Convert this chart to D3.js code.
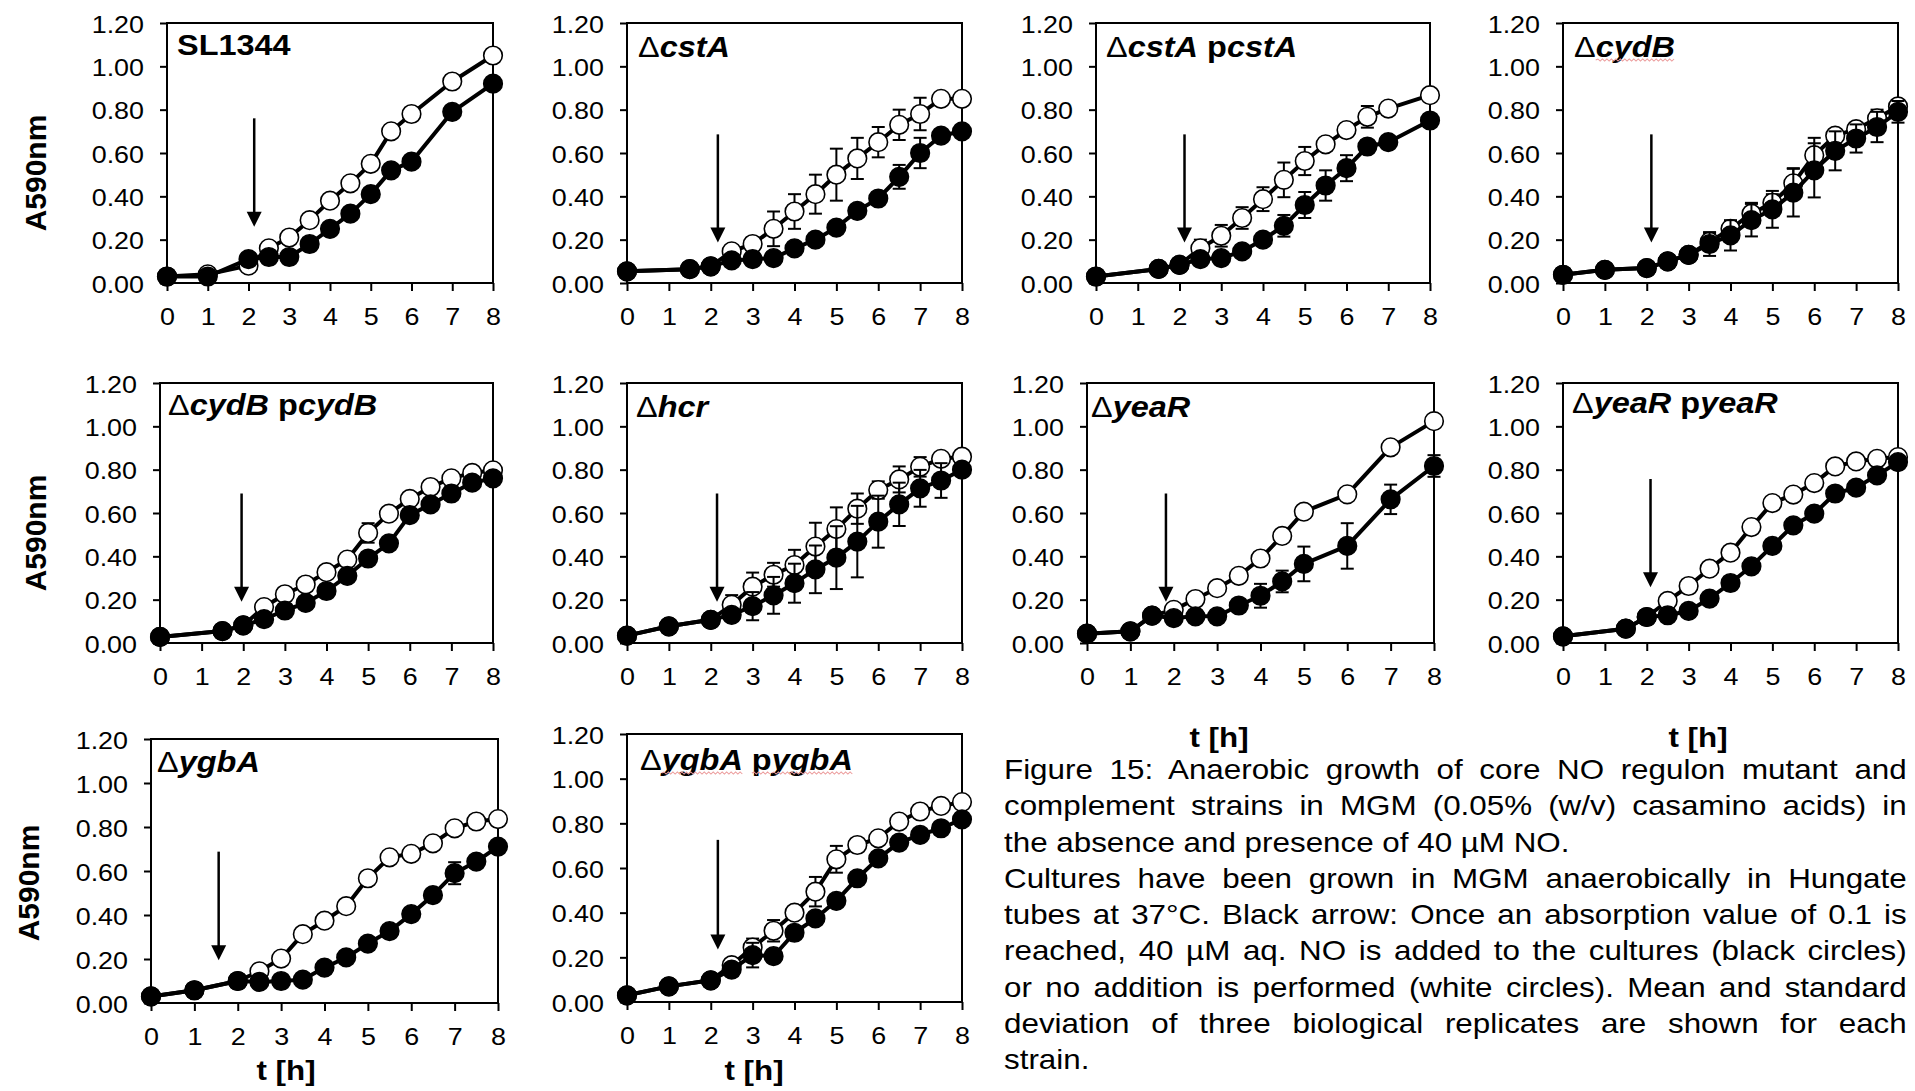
<!DOCTYPE html>
<html>
<head>
<meta charset="utf-8">
<script src="https://cdn.jsdelivr.net/npm/d3@7"></script>
<style>
  html, body { margin: 0; padding: 0; background: #fff; }
  #fig { position: relative; width: 1915px; height: 1091px; overflow: hidden; background: #fff; }
  #fig svg { position: absolute; left: 0; top: 0; }
  #caption {
    position: absolute; left: 1004px; top: 752px; width: 806px;
    transform: scaleX(1.12); transform-origin: 0 0;
    font-family: "Liberation Sans", Arial, Helvetica, sans-serif;
    font-size: 28px; line-height: 36.3px; color: #000;
  }
  #caption div { text-align: justify; text-align-last: justify; }
  #caption div.end { text-align-last: left; }
</style>
</head>
<body>
<div id="fig"></div>
<script>
// ---- axis ticks ----
const xTicks = [0, 1, 2, 3, 4, 5, 6, 7, 8];
const yTicks = [0, 0.2, 0.4, 0.6, 0.8, 1.0, 1.2];

// ---- strain names: [text, style, spell-check mark] ----
const strainLabels = [
  [["SL1344", "b"]],
  [["Δ", "d"], ["cstA", "i"]],
  [["Δ", "d"], ["cstA", "i"], [" p", "b"], ["cstA", "i"]],
  [["Δ", "d"], ["cydB", "i", 1]],
  [["Δ", "d"], ["cydB", "i"], [" p", "b"], ["cydB", "i"]],
  [["Δ", "d"], ["hcr", "i"]],
  [["Δ", "d"], ["yeaR", "i"]],
  [["Δ", "d"], ["yeaR", "i"], [" p", "b"], ["yeaR", "i"]],
  [["Δ", "d"], ["ygbA", "i"]],
  [["Δ", "d"], ["ygbA", "i", 1], [" ", "b"], ["p", "b", 1], ["ygbA", "i", 1]]
];

// ---- growth data: time (h), A590 without NO (open), with 40 µM NO (filled), SD ----
const t1  = [0, 1, 2, 2.5, 3, 3.5, 4, 4.5, 5, 5.5, 6, 7, 8];
const c1  = [0.03, 0.04, 0.08, 0.16, 0.21, 0.29, 0.38, 0.46, 0.55, 0.70, 0.78, 0.93, 1.05];
const ce1 = [0, 0, 0, 0, 0, 0, 0, 0, 0, 0, 0, 0, 0];
const n1  = [0.03, 0.03, 0.11, 0.12, 0.12, 0.18, 0.25, 0.32, 0.41, 0.52, 0.56, 0.79, 0.92];
const ne1 = [0, 0, 0, 0, 0, 0, 0, 0, 0, 0, 0, 0, 0];

const t2  = [0, 1.5, 2, 2.5, 3, 3.5, 4, 4.5, 5, 5.5, 6, 6.5, 7, 7.5, 8];
const c2  = [0.054, 0.064, 0.077, 0.146, 0.18, 0.25, 0.33, 0.41, 0.50, 0.575, 0.65, 0.73, 0.78, 0.85, 0.85];
const ce2 = [0, 0, 0, 0.02, 0.03, 0.08, 0.08, 0.09, 0.12, 0.095, 0.07, 0.07, 0.075, 0.02, 0.02];
const n2  = [0.054, 0.064, 0.077, 0.104, 0.11, 0.115, 0.16, 0.20, 0.256, 0.333, 0.39, 0.49, 0.60, 0.68, 0.70];
const ne2 = [0, 0, 0, 0, 0, 0.01, 0.01, 0.01, 0.02, 0.02, 0.02, 0.055, 0.07, 0.02, 0.02];

const t3  = [0, 1.5, 2, 2.5, 3, 3.5, 4, 4.5, 5, 5.5, 6, 6.5, 7, 8];
const c3  = [0.03, 0.065, 0.084, 0.16, 0.218, 0.30, 0.387, 0.476, 0.563, 0.64, 0.706, 0.767, 0.805, 0.867];
const ce3 = [0, 0, 0, 0.04, 0.05, 0.05, 0.055, 0.08, 0.065, 0.03, 0.03, 0.05, 0.01, 0.01];
const n3  = [0.03, 0.065, 0.084, 0.11, 0.115, 0.146, 0.20, 0.264, 0.36, 0.45, 0.53, 0.63, 0.65, 0.75];
const ne3 = [0, 0, 0, 0, 0, 0.01, 0.02, 0.05, 0.06, 0.07, 0.06, 0.03, 0.01, 0.01];

const t4  = [0, 1, 2, 2.5, 3, 3.5, 4, 4.5, 5, 5.5, 6, 6.5, 7, 7.5, 8];
const c4  = [0.038, 0.061, 0.069, 0.10, 0.13, 0.19, 0.25, 0.32, 0.37, 0.46, 0.59, 0.68, 0.71, 0.76, 0.815];
const ce4 = [0, 0, 0, 0, 0, 0.04, 0.035, 0.05, 0.04, 0.07, 0.08, 0.02, 0.02, 0.04, 0.02];
const n4  = [0.038, 0.061, 0.069, 0.10, 0.13, 0.18, 0.22, 0.29, 0.34, 0.417, 0.52, 0.61, 0.667, 0.72, 0.79];
const ne4 = [0, 0, 0, 0, 0, 0.055, 0.07, 0.075, 0.085, 0.11, 0.125, 0.09, 0.065, 0.07, 0.05];

const t5  = [0, 1.5, 2, 2.5, 3, 3.5, 4, 4.5, 5, 5.5, 6, 6.5, 7, 7.5, 8];
const c5  = [0.028, 0.055, 0.081, 0.166, 0.225, 0.27, 0.327, 0.385, 0.508, 0.597, 0.665, 0.72, 0.76, 0.785, 0.797];
const ce5 = [0, 0, 0, 0, 0, 0, 0, 0, 0.045, 0, 0, 0, 0, 0, 0];
const n5  = [0.028, 0.055, 0.081, 0.11, 0.15, 0.185, 0.24, 0.31, 0.39, 0.46, 0.59, 0.64, 0.69, 0.74, 0.76];
const ne5 = [0, 0, 0, 0, 0, 0, 0, 0, 0, 0, 0, 0, 0, 0, 0];

const t6  = [0, 1, 2, 2.5, 3, 3.5, 4, 4.5, 5, 5.5, 6, 6.5, 7, 7.5, 8];
const c6  = [0.034, 0.077, 0.107, 0.176, 0.26, 0.315, 0.36, 0.445, 0.526, 0.62, 0.706, 0.755, 0.813, 0.85, 0.86];
const ce6 = [0, 0, 0, 0.045, 0.065, 0.055, 0.07, 0.11, 0.10, 0.07, 0.04, 0.06, 0.045, 0.01, 0.01];
const n6  = [0.034, 0.077, 0.107, 0.13, 0.17, 0.22, 0.276, 0.34, 0.394, 0.468, 0.56, 0.64, 0.714, 0.75, 0.80];
const ne6 = [0, 0, 0, 0.02, 0.065, 0.085, 0.09, 0.11, 0.145, 0.165, 0.12, 0.10, 0.085, 0.08, 0.03];

const t7  = [0, 1, 1.5, 2, 2.5, 3, 3.5, 4, 4.5, 5, 6, 7, 8];
const c7  = [0.043, 0.054, 0.126, 0.153, 0.203, 0.253, 0.31, 0.39, 0.494, 0.606, 0.686, 0.903, 1.024];
const ce7 = [0, 0, 0, 0, 0, 0, 0, 0, 0, 0, 0, 0, 0];
const n7  = [0.043, 0.054, 0.126, 0.115, 0.123, 0.123, 0.173, 0.218, 0.284, 0.365, 0.448, 0.663, 0.817];
const ne7 = [0, 0, 0, 0, 0, 0, 0.01, 0.055, 0.05, 0.08, 0.105, 0.068, 0.05];

const t8  = [0, 1.5, 2, 2.5, 3, 3.5, 4, 4.5, 5, 5.5, 6, 6.5, 7, 7.5, 8];
const c8  = [0.031, 0.066, 0.12, 0.194, 0.263, 0.343, 0.417, 0.535, 0.646, 0.685, 0.738, 0.815, 0.838, 0.85, 0.858];
const ce8 = [0, 0, 0, 0, 0, 0, 0, 0, 0, 0, 0, 0, 0, 0, 0.01];
const n8  = [0.031, 0.066, 0.12, 0.128, 0.148, 0.205, 0.277, 0.354, 0.448, 0.543, 0.597, 0.69, 0.717, 0.774, 0.835];
const ne8 = [0, 0, 0, 0, 0, 0, 0, 0.03, 0, 0, 0, 0, 0, 0, 0];

const t9  = [0, 1, 2, 2.5, 3, 3.5, 4, 4.5, 5, 5.5, 6, 6.5, 7, 7.5, 8];
const c9  = [0.03, 0.058, 0.10, 0.144, 0.202, 0.313, 0.374, 0.44, 0.567, 0.662, 0.678, 0.726, 0.794, 0.825, 0.836];
const ce9 = [0, 0, 0, 0, 0, 0, 0, 0, 0, 0, 0, 0, 0, 0, 0];
const n9  = [0.03, 0.058, 0.10, 0.096, 0.10, 0.106, 0.161, 0.207, 0.27, 0.327, 0.404, 0.49, 0.59, 0.643, 0.711];
const ne9 = [0, 0, 0, 0, 0, 0, 0, 0, 0, 0, 0, 0, 0.05, 0, 0];

const t10  = [0, 1, 2, 2.5, 3, 3.5, 4, 4.5, 5, 5.5, 6, 6.5, 7, 7.5, 8];
const c10  = [0.03, 0.07, 0.097, 0.165, 0.244, 0.319, 0.40, 0.494, 0.639, 0.703, 0.733, 0.808, 0.853, 0.878, 0.895];
const ce10 = [0, 0, 0, 0, 0.04, 0.048, 0, 0.066, 0.06, 0, 0, 0, 0, 0, 0];
const n10  = [0.03, 0.07, 0.097, 0.145, 0.21, 0.205, 0.31, 0.374, 0.453, 0.554, 0.643, 0.714, 0.748, 0.778, 0.818];
const ne10 = [0, 0, 0, 0.03, 0.055, 0, 0, 0, 0, 0, 0, 0, 0, 0.02, 0];

// ---- time of NO addition (arrow) and the arrow's vertical extent in A590 units ----
const arrowTime = [2.14, 2.17, 2.12, 2.11, 1.96, 2.15, 1.82, 2.09, 1.56, 2.17];
const arrowTop  = [0.76, 0.686, 0.686, 0.686, 0.69, 0.69, 0.69, 0.757, 0.688, 0.726];
const arrowTip  = [0.26, 0.187, 0.187, 0.187, 0.19, 0.19, 0.19, 0.257, 0.194, 0.235];

const captionLines = [
  ["Figure 15: Anaerobic growth of core NO regulon mutant and", 0],
  ["complement strains in MGM (0.05% (w/v) casamino acids) in", 0],
  ["the absence and presence of 40 µM NO.", 1],
  ["Cultures have been grown in MGM anaerobically in Hungate", 0],
  ["tubes at 37°C. Black arrow: Once an absorption value of 0.1 is", 0],
  ["reached, 40 µM aq. NO is added to the cultures (black circles)", 0],
  ["or no addition is performed (white circles). Mean and standard", 0],
  ["deviation of three biological replicates are shown for each", 0],
  ["strain.", 1]
];

// ---- page layout ----
const W = 1915, H = 1091;
const FONT = '"Liberation Sans", Arial, Helvetica, sans-serif';
const SX = 1.12;   // horizontal glyph stretch of the figure's lettering

// plot frames [left, right, top, bottom]
const boxes = [
  [167, 493, 23, 283], [627, 962, 23, 283], [1096, 1430, 23, 283], [1563, 1898, 23, 283],
  [160, 493, 383, 643], [627, 962, 383, 643], [1087, 1434, 383, 643], [1563, 1898, 383, 643],
  [151, 498, 739, 1003], [627, 962, 734, 1002]
];
// strain name offset inside the frame [dx, baseline dy]
const labelOffsets = [[10, 32], [11, 34], [10, 34], [11, 34], [8, 32], [9, 34], [4, 34], [9, 30], [6, 33], [13, 36]];
// y-axis titles (panel index, x, y) and x-axis titles (x, baseline y)
const yTitles = [[0, 35, 173], [4, 35, 533], [8, 28, 883]];
const xTitles = [[1219, 747], [1698, 747], [286, 1080], [754, 1080]];

const series = [
  [t1, c1, ce1, n1, ne1], [t2, c2, ce2, n2, ne2], [t3, c3, ce3, n3, ne3], [t4, c4, ce4, n4, ne4],
  [t5, c5, ce5, n5, ne5], [t6, c6, ce6, n6, ne6], [t7, c7, ce7, n7, ne7], [t8, c8, ce8, n8, ne8],
  [t9, c9, ce9, n9, ne9], [t10, c10, ce10, n10, ne10]
];

const fig = d3.select("#fig");
const svg = fig.append("svg").attr("width", W).attr("height", H);

function drawSeries(g, x, y, ts, vals, errs, filled) {
  const pts = ts.map((t, j) => ({ t: t, v: vals[j], e: errs[j] }));
  const eb = g.append("g").attr("stroke", "#000").attr("stroke-width", 2);
  pts.filter(d => d.e > 0).forEach(d => {
    const cx = x(d.t), yLo = y(d.v - d.e), yHi = y(d.v + d.e);
    eb.append("line").attr("x1", cx).attr("x2", cx).attr("y1", yLo).attr("y2", yHi);
    eb.append("line").attr("x1", cx - 6.5).attr("x2", cx + 6.5).attr("y1", yLo).attr("y2", yLo);
    eb.append("line").attr("x1", cx - 6.5).attr("x2", cx + 6.5).attr("y1", yHi).attr("y2", yHi);
  });
  g.append("path").datum(pts)
    .attr("d", d3.line().x(d => x(d.t)).y(d => y(d.v)))
    .attr("fill", "none").attr("stroke", "#000").attr("stroke-width", 4)
    .attr("stroke-linejoin", "round");
  g.append("g").selectAll("circle").data(pts).join("circle")
    .attr("cx", d => x(d.t)).attr("cy", d => y(d.v)).attr("r", 9.3)
    .attr("fill", filled ? "#000" : "#fff").attr("stroke", "#000").attr("stroke-width", 1.6);
}

function wavy(x0, x1, yy) {
  let d = `M${x0},${yy}`;
  let up = true;
  for (let xx = x0 + 2; xx <= x1; xx += 2) { d += `L${xx},${yy + (up ? -1 : 1)}`; up = !up; }
  return d;
}

series.forEach((s, i) => {
  const [l, r, t, b] = boxes[i];
  const x = d3.scaleLinear().domain([0, 8]).range([l, r]);
  const y = d3.scaleLinear().domain([0, 1.2]).range([b, t]);
  const g = svg.append("g");

  // y axis ticks and labels
  const ya = g.append("g").attr("transform", `translate(${l},0)`)
    .call(d3.axisLeft(y).tickValues(yTicks).tickFormat(d3.format(".2f")).tickSize(7).tickSizeOuter(0));
  ya.select(".domain").remove();
  ya.selectAll("line").attr("stroke", "#000").attr("stroke-width", 2);
  ya.selectAll("text").attr("x", null).attr("dy", null)
    .attr("transform", `translate(-23,9) scale(${SX},1)`)
    .attr("font-size", 24).attr("font-family", FONT).attr("fill", "#000");

  // x axis ticks and labels
  const xa = g.append("g").attr("transform", `translate(0,${b})`)
    .call(d3.axisBottom(x).tickValues(xTicks).tickFormat(d3.format("d")).tickSize(8).tickSizeOuter(0));
  xa.select(".domain").remove();
  xa.selectAll("line").attr("stroke", "#000").attr("stroke-width", 2);
  xa.selectAll("text").attr("y", null).attr("dy", null)
    .attr("transform", `translate(0,42) scale(${SX},1)`)
    .attr("font-size", 24).attr("font-family", FONT).attr("fill", "#000");

  // plot frame
  g.append("rect").attr("x", l).attr("y", t).attr("width", r - l).attr("height", b - t)
    .attr("fill", "none").attr("stroke", "#000").attr("stroke-width", 2);

  // arrow marking the NO addition
  const ax = x(arrowTime[i]), aTop = y(arrowTop[i]), aTip = y(arrowTip[i]);
  g.append("line").attr("x1", ax).attr("x2", ax).attr("y1", aTop).attr("y2", aTip - 12)
    .attr("stroke", "#000").attr("stroke-width", 2.5);
  g.append("path").attr("d", `M${ax - 7.5},${aTip - 15}L${ax + 7.5},${aTip - 15}L${ax},${aTip}Z`).attr("fill", "#000");

  // growth curves: without NO (open) under, with NO (filled) on top
  drawSeries(g, x, y, s[0], s[1], s[2], false);
  drawSeries(g, x, y, s[0], s[3], s[4], true);

  // strain name
  const [dx, dy] = labelOffsets[i];
  const lg = g.append("g").attr("transform", `translate(${l + dx},${t + dy}) scale(${SX},1)`);
  const txt = lg.append("text").attr("font-family", FONT).attr("font-size", 29).attr("fill", "#000");
  strainLabels[i].forEach(p => {
    txt.append("tspan").text(p[0])
      .attr("font-weight", p[1] === "d" ? "normal" : "bold")
      .attr("font-style", p[1] === "i" ? "italic" : "normal");
  });
  // spell-check squiggle under flagged words
  let idx = 0;
  const node = txt.node();
  strainLabels[i].forEach(p => {
    const n = p[0].length;
    if (p[2]) {
      const x0 = node.getStartPositionOfChar(idx).x;
      const x1 = node.getEndPositionOfChar(idx + n - 1).x;
      lg.append("path").attr("d", wavy(x0, x1, 3)).attr("fill", "none")
        .attr("stroke", "#ec9b9b").attr("stroke-width", 0.9);
    }
    idx += n;
  });
});

// axis titles
yTitles.forEach(([i, xx, yy]) => {
  svg.append("text").attr("transform", `translate(${xx},${yy}) rotate(-90)`)
    .attr("text-anchor", "middle").attr("dy", "0.35em")
    .attr("font-family", FONT).attr("font-size", 30).attr("font-weight", "bold").attr("fill", "#000")
    .text("A590nm");
});
xTitles.forEach(([xx, yy]) => {
  svg.append("text").attr("transform", `translate(${xx},${yy}) scale(${SX},1)`)
    .attr("text-anchor", "middle")
    .attr("font-family", FONT).attr("font-size", 28).attr("font-weight", "bold").attr("fill", "#000")
    .text("t [h]");
});

// figure caption
fig.append("div").attr("id", "caption")
  .selectAll("div").data(captionLines).join("div")
  .attr("class", d => d[1] ? "end" : null)
  .text(d => d[0]);
</script>
</body>
</html>
